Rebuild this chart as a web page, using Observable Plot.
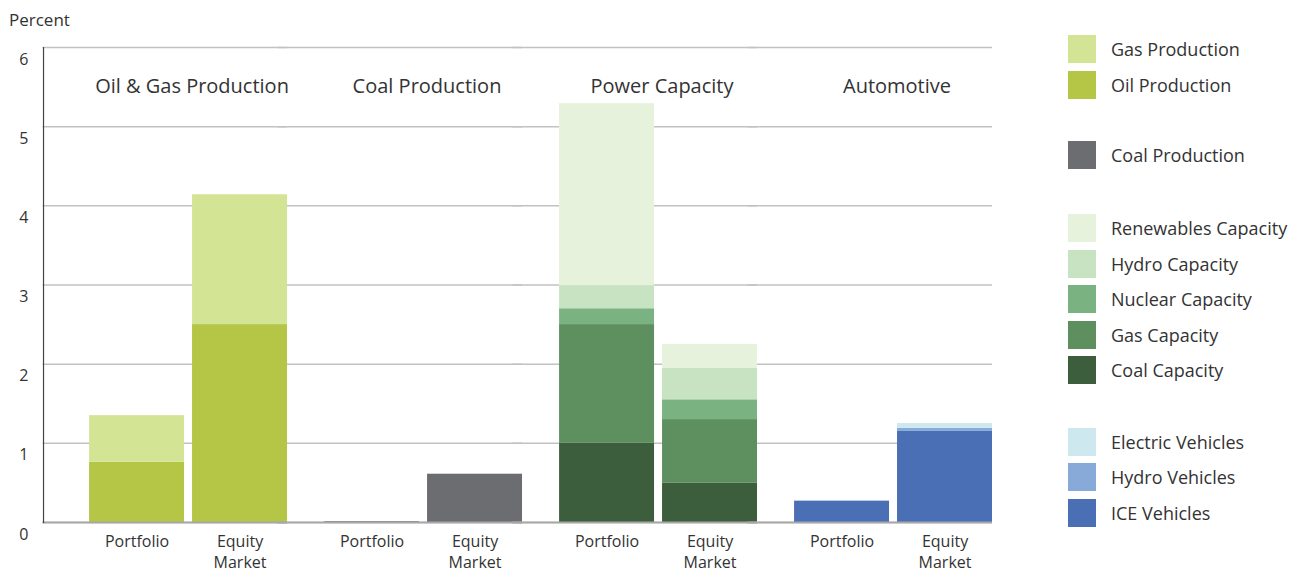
<!DOCTYPE html>
<html>
<head>
<meta charset="utf-8">
<script src="https://cdn.jsdelivr.net/npm/d3@7"></script>
<script src="https://cdn.jsdelivr.net/npm/@observablehq/plot@0.6"></script>
<style>
  html, body { margin: 0; padding: 0; background: #fff; }
  body { font-family: "Open Sans", sans-serif; color: #333; }
  #wrap { position: relative; width: 1298px; height: 572px; overflow: hidden; }
  #ylabel { position: absolute; left: 9px; top: 8px; font-size: 17px; color: #333; }
  #legend { position: absolute; left: 1068px; top: 35px; }
  .item { display: flex; align-items: center; height: 28px; margin-bottom: 7.5px; }
  .sw { width: 28px; height: 28px; margin-right: 15px; flex: none; }
  .lab { font-size: 18px; color: #333; white-space: nowrap; }
</style>
</head>
<body>
<div id="wrap">
  <div id="chart"></div>
  <div id="ylabel">Percent</div>
  <div id="legend"></div>
</div>
<script>
// ---- data ----
const groups = ["Oil & Gas Production", "Coal Production", "Power Capacity", "Automotive"];
const bars = ["Portfolio", "Equity Market"];
const barLabels = ["Portfolio", "Equity\nMarket"];
const yTicks = [0, 1, 2, 3, 4, 5, 6];

// values: [Portfolio, Equity Market], stacked bottom to top within each group
const oilProduction = [0.76, 2.50];
const gasProduction = [0.59, 1.64];
const coalProduction = [0.01, 0.61];
const coalCapacity = [1.00, 0.50];
const gasCapacity = [1.50, 0.80];
const nuclearCapacity = [0.20, 0.25];
const hydroCapacity = [0.29, 0.40];
const renewablesCapacity = [2.30, 0.30];
const iceVehicles = [0.27, 1.15];
const hydroVehicles = [0.00, 0.04];
const electricVehicles = [0.00, 0.06];

const seriesNames = [
  "Gas Production", "Oil Production", "Coal Production",
  "Renewables Capacity", "Hydro Capacity", "Nuclear Capacity", "Gas Capacity", "Coal Capacity",
  "Electric Vehicles", "Hydro Vehicles", "ICE Vehicles"
];
const seriesColors = [
  "#d3e494", "#b5c546", "#6c6d70",
  "#e6f2dc", "#c8e3c1", "#7ab381", "#5e8f5e", "#3d5e3c",
  "#cde9ef", "#88aad8", "#4a6fb5"
];
const legendGroups = [
  ["Gas Production", "Oil Production"],
  ["Coal Production"],
  ["Renewables Capacity", "Hydro Capacity", "Nuclear Capacity", "Gas Capacity", "Coal Capacity"],
  ["Electric Vehicles", "Hydro Vehicles", "ICE Vehicles"]
];
const legendGaps = [35, 37.5, 36];

// stacking order (bottom → top) per group
const stacks = [
  [groups[0], [["Oil Production", oilProduction], ["Gas Production", gasProduction]]],
  [groups[1], [["Coal Production", coalProduction]]],
  [groups[2], [["Coal Capacity", coalCapacity], ["Gas Capacity", gasCapacity], ["Nuclear Capacity", nuclearCapacity], ["Hydro Capacity", hydroCapacity], ["Renewables Capacity", renewablesCapacity]]],
  [groups[3], [["ICE Vehicles", iceVehicles], ["Hydro Vehicles", hydroVehicles], ["Electric Vehicles", electricVehicles]]]
];

const rows = [];
for (const [group, series] of stacks) {
  bars.forEach((bar, i) => {
    for (const [name, vals] of series) rows.push({group, bar, series: name, value: vals[i]});
  });
}

const chart = Plot.plot({
  width: 1298,
  height: 572,
  marginLeft: 43,
  marginRight: 306,
  marginTop: 47,
  marginBottom: 50,
  style: {fontFamily: "Open Sans, sans-serif", fontSize: "16px", color: "#333", background: "transparent", overflow: "visible"},
  fx: {domain: groups, paddingInner: 0, paddingOuter: 0.0192, align: 1, round: false, axis: null, label: null},
  x: {domain: bars, paddingInner: 0.0777, paddingOuter: 0.18, align: 1, round: false, axis: null, label: null},
  y: {domain: [0, 6], axis: null, label: null},
  color: {domain: seriesNames, range: seriesColors},
  marks: [
    Plot.ruleY(yTicks, {stroke: "#c2c2c2", strokeWidth: 1.5, insetLeft: -9.5}),
    Plot.barY(rows, {fx: "group", x: "bar", y: "value", fill: "series"}),
    Plot.ruleY([0], {stroke: "#a8a8a8", strokeWidth: 2, insetLeft: -9.5}),
    Plot.frame({anchor: "left", facetAnchor: "left", insetLeft: -9, stroke: "#444", strokeWidth: 1.2}),
    Plot.text(groups, {fx: d => d, text: d => d, frameAnchor: "top", dy: 31, dx: 22, fontSize: 20, fill: "#333"}),
    Plot.axisX({tickSize: 0, tickPadding: 9.5, fontSize: 16, lineHeight: 1.3, fill: "#333",
      tickFormat: d => barLabels[bars.indexOf(d)], label: null}),
    Plot.axisY({ticks: yTicks, tickFormat: "d", tickSize: 0, tickPadding: 24, dy: 12, fontSize: 16, fill: "#333", label: null})
  ]
});
document.getElementById("chart").appendChild(chart);

// legend
const legend = document.getElementById("legend");
legendGroups.forEach((g, gi) => {
  if (gi > 0) { const s = document.createElement("div"); s.style.height = legendGaps[gi - 1] + "px"; legend.appendChild(s); }
  for (const name of g) {
    const it = document.createElement("div"); it.className = "item";
    const sw = document.createElement("div"); sw.className = "sw";
    sw.style.background = seriesColors[seriesNames.indexOf(name)];
    const lab = document.createElement("div"); lab.className = "lab"; lab.textContent = name;
    it.appendChild(sw); it.appendChild(lab); legend.appendChild(it);
  }
});
</script>
</body>
</html>
